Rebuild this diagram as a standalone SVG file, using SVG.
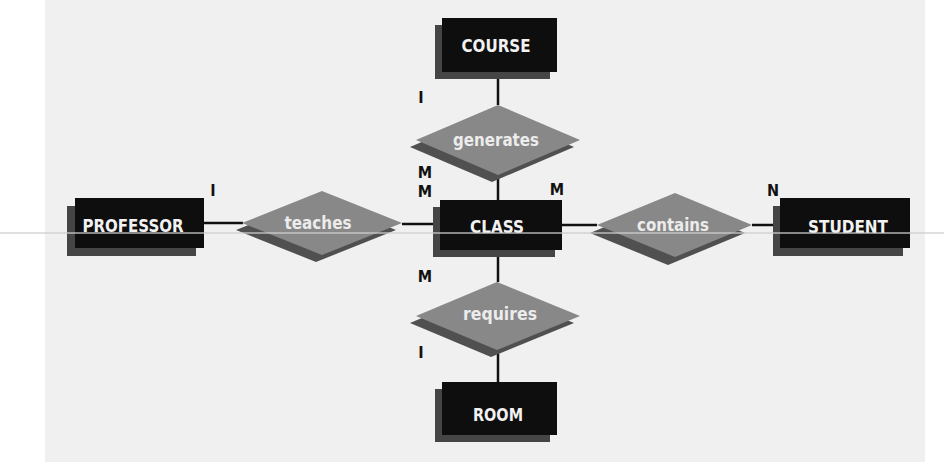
<svg xmlns="http://www.w3.org/2000/svg" width="944" height="465" viewBox="0 0 944 465">
<defs>
<style>
.bg{fill:#f0f0f0}
.ent{fill:#0e0e0e}
.sh{fill:#454545}
.rel{fill:#888888}
.rsh{fill:#505050}
.et{font-family:"DejaVu Sans Condensed","DejaVu Sans",sans-serif;font-weight:bold;font-size:18px;fill:#f2f2f2;text-anchor:middle}
.rt{font-family:"DejaVu Sans Condensed","DejaVu Sans",sans-serif;font-weight:bold;font-size:17px;fill:#ececec;text-anchor:middle}
.card{font-family:"DejaVu Sans Condensed","DejaVu Sans",sans-serif;font-weight:bold;font-size:16px;fill:#111;text-anchor:middle}
.ln{stroke:#111;stroke-width:2.5;fill:none}
.scan{stroke:#cfcfcf;stroke-width:1.5;opacity:0.85}
</style>
</defs>
<rect width="944" height="465" fill="#ffffff"/>
<rect class="bg" x="45" y="0" width="880" height="462"/>
<g id="connectors">
<line class="ln" x1="498" y1="72" x2="498" y2="105"/>
<line class="ln" x1="498" y1="175" x2="498" y2="200"/>
<line class="ln" x1="498" y1="250" x2="498" y2="282"/>
<line class="ln" x1="498" y1="350" x2="498" y2="382"/>
<line class="ln" x1="204" y1="223" x2="243" y2="223"/>
<line class="ln" x1="402" y1="224" x2="440" y2="224"/>
<line class="ln" x1="562" y1="225" x2="597" y2="225"/>
<line class="ln" x1="752" y1="225" x2="780" y2="225"/>
</g>
<g id="course">
<rect class="sh" x="435" y="25" width="115" height="54"/>
<rect class="ent" x="442" y="18" width="115" height="54"/>
<text class="et" x="496" y="52" textLength="69" lengthAdjust="spacingAndGlyphs">COURSE</text>
</g>
<g id="generates">
<polygon class="rsh" points="410,147 492,112 574,147 492,182"/>
<polygon class="rel" points="416,140 498,105 580,140 498,175"/>
<text class="rt" x="496" y="146" textLength="86" lengthAdjust="spacingAndGlyphs">generates</text>
</g>
<g id="professor">
<rect class="sh" x="67" y="206" width="129" height="50"/>
<rect class="ent" x="75" y="198" width="129" height="50"/>
<text class="et" x="133" y="232" textLength="101" lengthAdjust="spacingAndGlyphs">PROFESSOR</text>
</g>
<g id="teaches">
<polygon class="rsh" points="236,230 316,198 396,230 316,262"/>
<polygon class="rel" points="242,223 322,191 402,223 322,255"/>
<text class="rt" x="318" y="229" textLength="67" lengthAdjust="spacingAndGlyphs">teaches</text>
</g>
<g id="class">
<rect class="sh" x="433" y="207" width="122" height="50"/>
<rect class="ent" x="440" y="200" width="122" height="50"/>
<text class="et" x="497" y="233" textLength="54" lengthAdjust="spacingAndGlyphs">CLASS</text>
</g>
<g id="contains">
<polygon class="rsh" points="590,233 668,201 745,233 668,265"/>
<polygon class="rel" points="597,225 675,193 752,225 675,257"/>
<text class="rt" x="673" y="231" textLength="72" lengthAdjust="spacingAndGlyphs">contains</text>
</g>
<g id="student">
<rect class="sh" x="773" y="206" width="130" height="50"/>
<rect class="ent" x="780" y="198" width="130" height="50"/>
<text class="et" x="848" y="233" textLength="80" lengthAdjust="spacingAndGlyphs">STUDENT</text>
</g>
<g id="requires">
<polygon class="rsh" points="410,323 491,289 574,323 491,357"/>
<polygon class="rel" points="416,316 497,282 580,316 497,350"/>
<text class="rt" x="500" y="320" textLength="74" lengthAdjust="spacingAndGlyphs">requires</text>
</g>
<g id="room">
<rect class="sh" x="435" y="389" width="115" height="53"/>
<rect class="ent" x="442" y="382" width="115" height="53"/>
<text class="et" x="498" y="421" textLength="50" lengthAdjust="spacingAndGlyphs">ROOM</text>
</g>
<g id="cardinalities">
<text class="card" x="421" y="103">I</text>
<text class="card" x="213" y="196">I</text>
<text class="card" x="425" y="178">M</text>
<text class="card" x="425" y="197">M</text>
<text class="card" x="557" y="195">M</text>
<text class="card" x="773" y="196">N</text>
<text class="card" x="425" y="282">M</text>
<text class="card" x="421" y="358">I</text>
</g>
<line class="scan" x1="0" y1="233" x2="944" y2="233"/>
</svg>
